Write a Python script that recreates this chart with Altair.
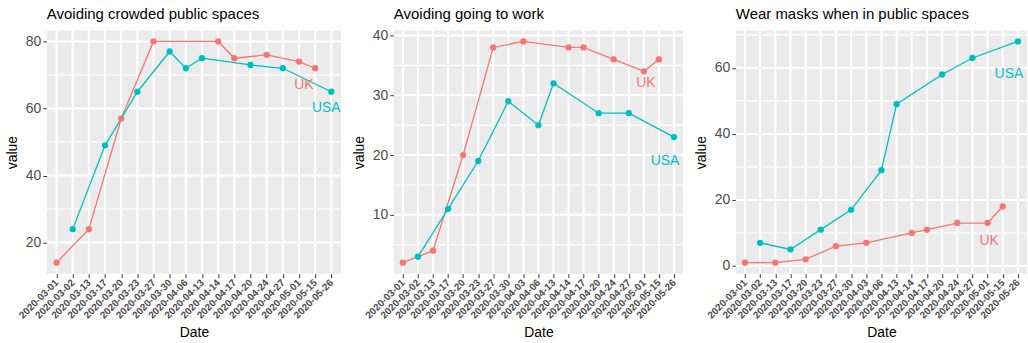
import altair as alt
import pandas as pd

FONT = "Liberation Sans"
UK_COLOR = "#F8766D"
USA_COLOR = "#00BFC4"

# ---------------- data ----------------
# Panel 1: Avoiding crowded public spaces
p1_title = "Avoiding crowded public spaces"
p1_uk_dates = ["2020-03-01", "2020-03-13", "2020-03-20", "2020-03-27", "2020-04-14",
               "2020-04-17", "2020-04-24", "2020-05-01", "2020-05-15"]
p1_uk_vals = [14, 24, 57, 80, 80, 75, 76, 74, 72]
p1_usa_dates = ["2020-03-02", "2020-03-17", "2020-03-23", "2020-03-30", "2020-04-06",
                "2020-04-13", "2020-04-20", "2020-04-27", "2020-05-26"]
p1_usa_vals = [24, 49, 65, 77, 72, 75, 73, 72, 65]
p1_label_dates = ["2020-05-01", "2020-05-26"]
p1_label_vals = [67, 60]
p1_major = [20, 40, 60, 80]
p1_minor = [30, 50, 70]

# Panel 2: Avoiding going to work
p2_title = "Avoiding going to work"
p2_uk_dates = ["2020-03-01", "2020-03-13", "2020-03-20", "2020-03-27", "2020-04-03",
               "2020-04-14", "2020-04-17", "2020-04-24", "2020-05-01", "2020-05-15"]
p2_uk_vals = [2, 4, 20, 38, 39, 38, 38, 36, 34, 36]
p2_usa_dates = ["2020-03-02", "2020-03-17", "2020-03-23", "2020-03-30", "2020-04-06",
                "2020-04-13", "2020-04-20", "2020-04-27", "2020-05-26"]
p2_usa_vals = [3, 11, 19, 29, 25, 32, 27, 27, 23]
p2_label_dates = ["2020-05-01", "2020-05-26"]
p2_label_vals = [32, 19]
p2_major = [10, 20, 30, 40]
p2_minor = [5, 15, 25, 35]

# Panel 3: Wear masks when in public spaces
p3_title = "Wear masks when in public spaces"
p3_uk_dates = ["2020-03-01", "2020-03-13", "2020-03-20", "2020-03-27", "2020-04-03",
               "2020-04-14", "2020-04-17", "2020-04-24", "2020-05-01", "2020-05-15"]
p3_uk_vals = [1, 1, 2, 6, 7, 10, 11, 13, 13, 18]
p3_usa_dates = ["2020-03-02", "2020-03-17", "2020-03-23", "2020-03-30", "2020-04-06",
                "2020-04-13", "2020-04-20", "2020-04-27", "2020-05-26"]
p3_usa_vals = [7, 5, 11, 17, 29, 49, 58, 63, 68]
p3_label_dates = ["2020-05-01", "2020-05-26"]
p3_label_vals = [7.5, 58]
p3_major = [0, 20, 40, 60]
p3_minor = [10, 30, 50, 70]

countries = ["UK", "USA"]


def panel(title, uk_d, uk_v, us_d, us_v, lab_d, lab_v, major, minor, width, dxs):
    df = pd.DataFrame({
        "Date": uk_d + us_d,
        "value": uk_v + us_v,
        "country": ["UK"] * len(uk_d) + ["USA"] * len(us_d),
    })
    xdom = sorted(set(uk_d + us_d))
    vals = uk_v + us_v
    rng = max(vals) - min(vals)
    ydom = [min(vals) - 0.05 * rng, max(vals) + 0.05 * rng]

    x = alt.X("Date:O",
              scale=alt.Scale(type="point", domain=xdom, padding=0.6),
              axis=alt.Axis(title="Date", labelAngle=-45, labelAlign="right",
                            labelBaseline="middle", labelFontSize=10,
                            labelFontWeight="bold",
                            labelColor="#4D4D4D", labelPadding=3,
                            tickSize=4, tickColor="#333333", tickWidth=1,
                            domain=False, grid=False,
                            titleFontSize=14, titleFontWeight="normal",
                            titleColor="black", titlePadding=5, labelFont=FONT,
                            titleFont=FONT, labelOverlap=False))
    y = alt.Y("value:Q",
              scale=alt.Scale(domain=ydom, nice=False, zero=False),
              axis=alt.Axis(title="value", values=major, labelOverlap=False,
                            labelFontSize=14, labelColor="#4D4D4D", labelPadding=2,
                            tickSize=4, tickColor="#333333", tickWidth=1,
                            grid=False, domain=False, titleFontSize=14,
                            titleFontWeight="normal", titleColor="black",
                            titlePadding=6, labelFont=FONT, titleFont=FONT))
    color = alt.Color("country:N",
                      scale=alt.Scale(domain=countries, range=[UK_COLOR, USA_COLOR]),
                      legend=None)

    minor_rules = alt.Chart(pd.DataFrame({"value": minor})).mark_rule(
        color="#FFFFFF", strokeWidth=1.1, opacity=1).encode(y=y)
    major_rules = alt.Chart(pd.DataFrame({"value": major})).mark_rule(
        color="#FFFFFF", strokeWidth=2, opacity=1).encode(y=y)
    x_rules = alt.Chart(pd.DataFrame({"Date": xdom})).mark_rule(
        color="#FFFFFF", strokeWidth=2, opacity=1).encode(x=x)

    base = alt.Chart(df).encode(x=x, y=y, color=color)
    lines = base.mark_line(strokeWidth=1.3).encode(detail="country:N")
    points = base.mark_circle(size=40, opacity=1)

    layers = [minor_rules, major_rules, x_rules, lines, points]
    for i, c in enumerate(countries):
        ldf = pd.DataFrame({"Date": [lab_d[i]], "value": [lab_v[i]], "country": [c],
                            "label": [c]})
        layers.append(
            alt.Chart(ldf).mark_text(fontSize=14, font=FONT, dx=dxs[i],
                                     baseline="middle", align="center")
            .encode(x=x, y=y, color=color, text="label:N")
        )

    return alt.layer(*layers).properties(
        width=width, height=244,
        title=alt.TitleParams(title, anchor="start", frame="group", fontSize=15,
                              fontWeight="normal", color="black", font=FONT,
                              offset=7),
    )


c1 = panel(p1_title, p1_uk_dates, p1_uk_vals, p1_usa_dates, p1_usa_vals,
           p1_label_dates, p1_label_vals, p1_major, p1_minor, 295, [5, -5])
c2 = panel(p2_title, p2_uk_dates, p2_uk_vals, p2_usa_dates, p2_usa_vals,
           p2_label_dates, p2_label_vals, p2_major, p2_minor, 290, [2, -9])
c3 = panel(p3_title, p3_uk_dates, p3_uk_vals, p3_usa_dates, p3_usa_vals,
           p3_label_dates, p3_label_vals, p3_major, p3_minor, 292, [1.5, -9])

chart = alt.hconcat(c1, c2, c3, spacing=53, bounds="flush").properties(
    padding={"left": 5, "top": 6, "right": 0, "bottom": 0},
    background="white",
).configure_view(fill="#EBEBEB", strokeWidth=0)

chart.save("out.html", embed_options={"renderer": "svg", "actions": False})
